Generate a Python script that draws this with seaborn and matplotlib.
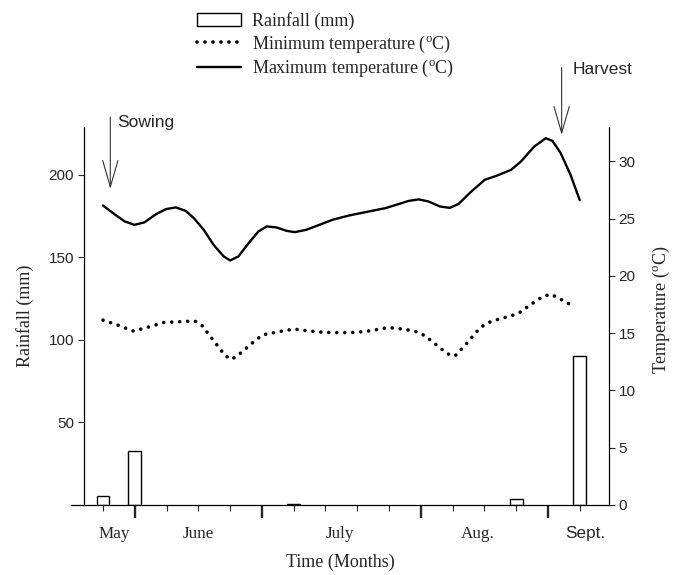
import matplotlib
matplotlib.use("Agg")
import matplotlib.pyplot as plt
import matplotlib.transforms as mtransforms
from matplotlib.patches import Patch
from matplotlib.lines import Line2D
import pandas as pd
import seaborn as sns

# ---------------- data (x in weeks from the first week of May) ----------------
rain_weeks = [0, 1, 6, 13, 15]
rain_mm = [5.5, 33, 0.8, 3.5, 90]

max_weeks = [0.00, 0.36, 0.68, 0.99, 1.30, 1.67, 1.98, 2.29, 2.60, 2.86, 3.17, 3.48,
             3.80, 4.00, 4.26, 4.58, 4.89, 5.15, 5.46, 5.77, 6.03, 6.39, 6.81, 7.22,
             7.75, 8.37, 8.89, 9.30, 9.62, 9.93, 10.24, 10.60, 10.91, 11.18, 11.59,
             12.01, 12.37, 12.84, 13.15, 13.57, 13.93, 14.14, 14.40, 14.71, 15.00]
max_temp = [26.15, 25.39, 24.76, 24.46, 24.67, 25.39, 25.83, 25.98, 25.68, 25.04, 24.02, 22.71,
            21.70, 21.35, 21.70, 22.86, 23.88, 24.32, 24.23, 23.94, 23.82, 24.02, 24.46, 24.90,
            25.28, 25.63, 25.92, 26.27, 26.55, 26.68, 26.50, 26.06, 25.94, 26.27, 27.37,
            28.39, 28.73, 29.26, 29.99, 31.30, 32.02, 31.79, 30.72, 28.82, 26.61]

min_weeks = [0.0, 0.47, 0.96, 1.46, 1.92, 2.41, 2.89, 3.12, 3.48, 3.85, 4.05, 4.32,
             4.78, 5.01, 5.51, 6.01, 6.50, 6.98, 7.48, 7.95, 8.42, 8.92, 9.17, 9.62,
             9.88, 10.13, 10.37, 10.62, 10.86, 11.07, 11.30, 11.52, 11.72, 11.96, 12.19,
             12.42, 12.66, 12.91, 13.15, 13.39, 13.62, 13.86, 14.10, 14.35, 14.61, 14.84]
min_temp = [16.14, 15.7, 15.18, 15.56, 15.94, 16.0, 16.06, 15.65, 14.34, 13.03, 12.71, 13.24,
            14.34, 14.84, 15.12, 15.36, 15.18, 15.07, 15.04, 15.07, 15.21, 15.47, 15.45, 15.27,
            15.12, 14.77, 14.25, 13.67, 13.18, 13.0, 13.67, 14.34, 15.04, 15.65, 16.0,
            16.2, 16.38, 16.58, 16.87, 17.37, 17.8, 18.24, 18.39, 18.04, 17.65, 17.25]

month_labels = ["May", "June", "July", "Aug.", "Sept."]
month_label_pos = [0.36, 3.0, 7.44, 11.8, 15.18]
month_boundaries = [1, 5, 10, 14]
week_ticks = [0, 2, 3, 4, 6, 7, 8, 9, 11, 12, 13, 15]
left_ticks = [50, 100, 150, 200]
right_ticks = [0, 5, 10, 15, 20, 25, 30]
sowing_week, harvest_week = 0.23, 14.43

# ---------------- style ----------------
sns.set_style("white")
plt.rcParams["font.family"] = ["Liberation Sans", "DejaVu Sans"]
plt.rcParams["mathtext.fontset"] = "custom"
plt.rcParams["mathtext.rm"] = "Liberation Serif"
SERIF = ["Liberation Serif", "DejaVu Serif"]
SANS = ["Liberation Sans", "DejaVu Sans"]

fig = plt.figure(figsize=(6.74, 5.75), dpi=100)
ax = fig.add_axes([71 / 674, 1 - 505 / 575, 538 / 674, 378 / 575])

rain_df = pd.DataFrame({"week": rain_weeks, "rain": rain_mm})
sns.barplot(data=rain_df, x="week", y="rain", native_scale=True, width=0.4,
            color="white", edgecolor="black", linewidth=1.0, saturation=1, ax=ax,
            errorbar=None)

ax2 = ax.twinx()
max_df = pd.DataFrame({"week": max_weeks, "temp": max_temp})
min_df = pd.DataFrame({"week": min_weeks, "temp": min_temp})
sns.lineplot(data=max_df, x="week", y="temp", ax=ax2, color="black", linewidth=1.7,
             sort=False, estimator=None, solid_joinstyle="round")
sns.lineplot(data=min_df, x="week", y="temp", ax=ax2, color="black", linewidth=2.6,
             linestyle=(0, (0.01, 2.2)), dash_capstyle="round", sort=False, estimator=None)

ax.set_xlim(-1.007, 15.92)
ax.set_ylim(0, 229)
ax2.set_ylim(0, 33)

for s in ["top", "right"]:
    ax.spines[s].set_visible(False)
ax.spines["left"].set_position(("data", -0.6))
for s in ["top", "left", "bottom"]:
    ax2.spines[s].set_visible(False)
for a in (ax, ax2):
    for s in a.spines.values():
        s.set_linewidth(0.9)
        s.set_color("black")

ax.set_yticks(left_ticks)
ax.tick_params(axis="y", direction="out", length=4, width=0.8, labelsize=11, pad=3)
ax2.set_yticks(right_ticks)
ax2.tick_params(axis="y", direction="out", length=4, width=0.8, labelsize=11, pad=3)

ax.set_xticks(month_boundaries)
ax.set_xticklabels([])
ax.set_xticks(week_ticks, minor=True)
ax.tick_params(axis="x", which="major", direction="out", length=9, width=1.7, bottom=True)
ax.tick_params(axis="x", which="minor", direction="out", length=4, width=0.8, bottom=True)

trans = mtransforms.blended_transform_factory(ax.transData, ax.transAxes)
for lab, pos in zip(month_labels, month_label_pos):
    ax.text(pos, -0.076, lab, transform=trans, ha="center", va="center", fontsize=12.3,
            family=SANS if lab.startswith("Sept") else SERIF)

ax.set_xlabel("Time (Months)", family=SERIF, fontsize=13)
ax.xaxis.set_label_coords(0.5, -0.128)
ax.set_ylabel("Rainfall (mm)", family=SERIF, fontsize=13)
ax.yaxis.set_label_coords(-0.068, 0.5)
ax2.set_ylabel("Temperature ($^{\\rm o}$C)", family=SERIF, fontsize=13)
ax2.yaxis.set_label_coords(1.078, 0.516)

# annotations
arrow_kw = dict(arrowstyle="->,head_length=1.9,head_width=0.55", color="#333333", lw=0.8,
                shrinkA=0, shrinkB=0, mutation_scale=10)
ax.annotate("", xy=(sowing_week, 191.5), xytext=(sowing_week, 235), arrowprops=arrow_kw,
            annotation_clip=False)
ax.text(0.46, 232, "Sowing", fontsize=12.5, ha="left", va="center", family=SANS, clip_on=False)
ax.annotate("", xy=(harvest_week, 224.2), xytext=(harvest_week, 265), arrowprops=arrow_kw,
            annotation_clip=False)
ax.text(14.76, 264, "Harvest", fontsize=12.5, ha="left", va="center", family=SANS, clip_on=False)

handles = [Patch(facecolor="white", edgecolor="black", linewidth=1.0),
           Line2D([], [], color="black", linewidth=2.6, linestyle=(0, (0.01, 2.2)),
                  dash_capstyle="round"),
           Line2D([], [], color="black", linewidth=1.7)]
labels = ["Rainfall (mm)", "Minimum temperature ($^{\\rm o}$C)",
          "Maximum temperature ($^{\\rm o}$C)"]
fig.legend(handles, labels, loc="upper left", bbox_to_anchor=(197 / 674, 1 - 12 / 575),
           frameon=False, prop={"family": SERIF, "size": 13}, handlelength=2.45,
           handletextpad=0.6, labelspacing=0.2, borderpad=0, borderaxespad=0)

fig.savefig("out.png", dpi=100)
